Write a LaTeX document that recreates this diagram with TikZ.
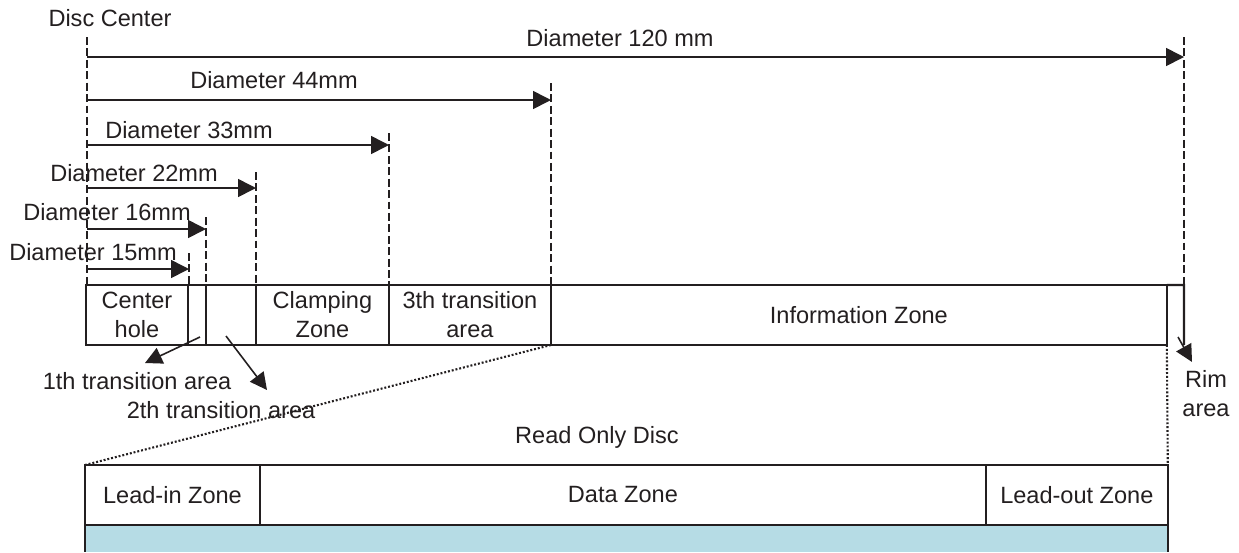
\documentclass[tikz,border=0pt]{standalone}
\usepackage{fontspec}
\setmainfont{Liberation Sans}
\usetikzlibrary{arrows.meta,positioning}
\usepackage{xcolor}
\definecolor{discblue}{RGB}{182,220,229}
\definecolor{lineblack}{RGB}{35,31,32}

\begin{document}
\begin{tikzpicture}[x=0.02cm, y=-0.02cm, font=\fontsize{13.4}{16.5}\selectfont, text=lineblack,
  zone/.style={draw=lineblack, line width=1.3pt, inner sep=0pt, outer sep=0pt, minimum height=1.2cm, align=center},
  zoneline/.style={lineblack, line width=1.3pt},
  dimline/.style={lineblack, line width=0.7pt, dash pattern=on 4.5pt off 2pt},
  dimarrow/.style={-{Triangle[length=3.6mm,width=3.6mm]}, line width=0.9pt, lineblack},
  pointer/.style={-{Triangle[length=3.4mm,width=3.4mm]}, line width=0.9pt, lineblack},
  zoomline/.style={lineblack, line width=1.2pt, dash pattern=on 1.1pt off 1.1pt}]
\useasboundingbox (0,0) rectangle (1239,552);

% zones of the disc
\node[zone, minimum width=2.04cm] (hole) at (137,315) {Center\\hole};
\node[zone, minimum width=0.36cm, right=0pt of hole] (trans1) {};
\node[zone, minimum width=1.0cm, right=0pt of trans1] (trans2) {};
\node[zone, minimum width=2.66cm, right=0pt of trans2] (clamp) {Clamping\\Zone};
\node[zone, minimum width=3.24cm, right=0pt of clamp] (trans3) {3th transition\\area};
\node[zone, minimum width=12.32cm, right=0pt of trans3] (info) {Information Zone};
\coordinate (rimne) at (1184,285);
\draw[zoneline] (info.north east) -- (rimne) -- (rimne |- info.south);

% diameters
\node (centerlabel) at (110,18) {Disc Center};
\coordinate (center) at (87,37);
\draw[dimline] (center) -- (center |- info.north);
\foreach \dname/\xe/\ya/\yt/\lx/\ly/\dtext in {
  d120/1184/57/37/620/38/Diameter 120 mm,
  d44/551/100/83/274/80/Diameter 44mm,
  d33/389/145/133/189/130/Diameter 33mm,
  d22/256/188/172/134/173/Diameter 22mm,
  d16/206/229/217/107/212/Diameter 16mm,
  d15/189/269/253/93/252/Diameter 15mm}{
  \coordinate (\dname) at (\xe,\ya);
  \draw[dimline] (\xe,\yt) -- (\dname |- info.north);
  \draw[dimarrow] (center |- \dname) -- (\dname);
  \node (\dname-label) at (\lx,\ly) {\dtext};
}

% labels under the zones
\node (t1label) at (137,381) {1th transition area};
\node (t2label) at (221,410) {2th transition area};
\node[align=center] (rimlabel) at (1206,394) {Rim\\area};
\coordinate (t1from) at (200,337);
\coordinate (t1tip) at (145,363);
\coordinate (t2from) at (226,336);
\coordinate (t2tip) at (267,390);
\coordinate (rimfrom) at (1178,337);
\coordinate (rimtip) at (1192,362);
\draw[pointer] (t1from) -- (t1tip);
\draw[pointer] (t2from) -- (t2tip);
\draw[pointer] (rimfrom) -- (rimtip);

% read only disc
\node (romlabel) at (597,437) {Read Only Disc};
\fill[discblue] (85,525) rectangle (1168,552);
\node[zone, minimum width=3.5cm] (leadin) at (172.5,495) {Lead-in Zone};
\node[zone, minimum width=14.52cm, right=0pt of leadin] (data) {Data Zone};
\node[zone, minimum width=3.64cm, right=0pt of data] (leadout) {Lead-out Zone};
\coordinate (bottomedge) at (0,552);
\draw[zoneline] (leadin.south west) -- (leadin.south west |- bottomedge);
\draw[zoneline] (leadout.south east) -- (leadout.south east |- bottomedge);
\draw[zoomline] (trans3.south east) -- (leadin.north west);
\draw[zoomline] (info.south east) -- (leadout.north east);
\end{tikzpicture}
\end{document}
